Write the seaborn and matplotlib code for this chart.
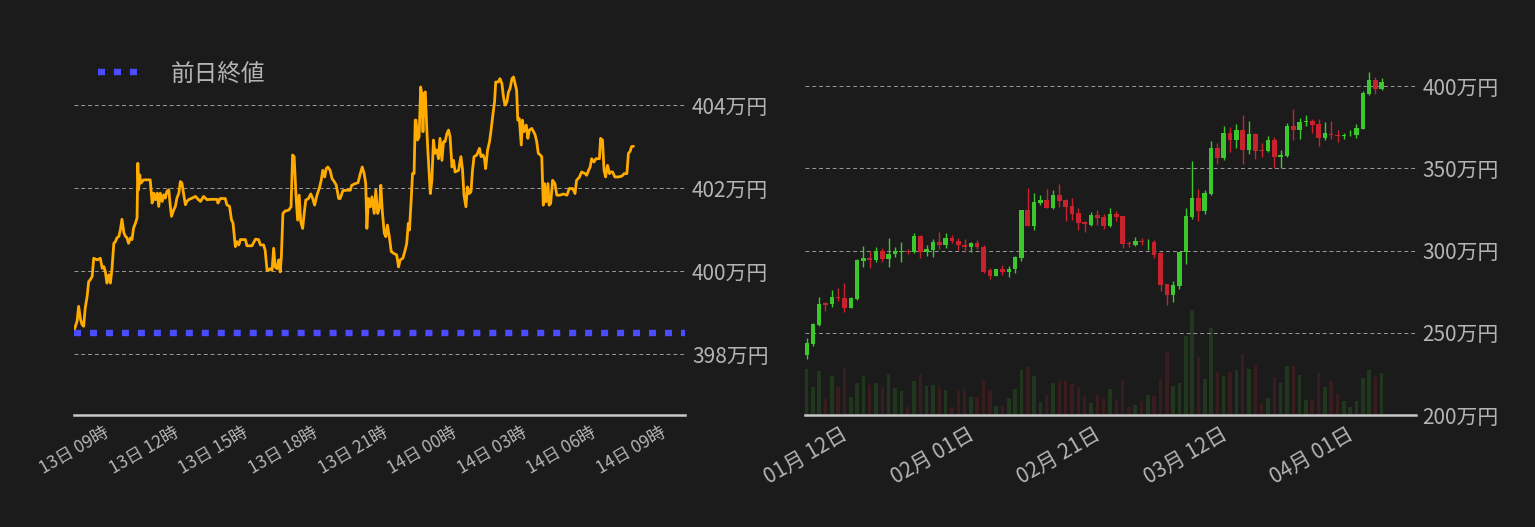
import matplotlib
matplotlib.use('Agg')
import matplotlib.pyplot as plt
import matplotlib.dates as mdates
from matplotlib.ticker import FuncFormatter
import seaborn as sns
import pandas as pd
import numpy as np

BG = '#1b1b1b'
TXT = '#b4b4b4'
ORANGE = '#ffab00'
BLUE = '#4b4bff'
UP = '#3cc72c'
DOWN = '#c8222e'

# --- intraday (minutes after 13日 09:00, price in 万円) ---
minutes = [0, 7, 11, 16, 20, 24, 28, 33, 37, 41, 46, 50, 59, 67, 72, 76, 80, 84, 89, 93,
           97, 102, 106, 110, 115, 119, 123, 128, 132, 136, 140, 145, 149, 153, 158, 162, 164, 166, 169, 172,
           179, 196, 201, 205, 209, 214, 218, 222, 227, 231, 235, 239, 244, 248, 251, 257, 261, 265, 270, 274,
           278, 282, 287, 291, 295, 304, 313, 321, 326, 334, 343, 351, 369, 371, 377, 390, 394, 401, 406, 410,
           416, 420, 425, 429, 433, 442, 446, 459, 468, 476, 481, 489, 493, 498, 502, 506, 511, 515, 519, 524,
           528, 532, 535, 539, 545, 554, 560, 564, 568, 573, 577, 581, 585, 590, 594, 598, 605, 611, 616, 621,
           627, 634, 638, 642, 647, 651, 655, 661, 666, 672, 677, 683, 687, 694, 704, 713, 717, 726, 733, 739,
           744, 749, 753, 756, 760, 765, 769, 775, 779, 784, 789, 792, 796, 801, 805, 809, 814, 819, 825, 833,
           838, 842, 849, 855, 859, 863, 866, 870, 874, 878, 881, 883, 887, 891, 895, 898, 901, 904, 907, 911,
           914, 920, 924, 928, 932, 937, 941, 945, 950, 954, 958, 963, 967, 971, 976, 980, 984, 993, 999, 1003,
           1007, 1012, 1016, 1020, 1025, 1029, 1033, 1040, 1047, 1051, 1056, 1060, 1063, 1068, 1073, 1077, 1081, 1086, 1089, 1096,
           1100, 1105, 1109, 1113, 1118, 1122, 1126, 1131, 1135, 1139, 1143, 1146, 1150, 1155, 1158, 1162, 1168, 1172, 1176, 1182,
           1187, 1191, 1195, 1199, 1204, 1208, 1212, 1215, 1219, 1224, 1227, 1231, 1236, 1242, 1247, 1255, 1264, 1273, 1279, 1288,
           1294, 1298, 1305, 1311, 1320, 1324, 1329, 1333, 1337, 1343, 1348, 1357, 1360, 1365, 1369, 1373, 1378, 1383, 1386, 1391,
           1397, 1406, 1415, 1421, 1428, 1432, 1436, 1440, 1445]
price = [398.59, 398.79, 399.15, 398.83, 398.71, 398.67, 399.11, 399.39, 399.75, 399.79, 399.87, 400.31, 400.27, 400.31, 400.07, 400.11, 399.99, 399.71, 399.91, 399.71,
         400.03, 400.67, 400.71, 400.80, 400.84, 401.00, 401.25, 400.92, 400.84, 400.80, 400.67, 400.80, 400.76, 401.04, 401.16, 401.28, 402.60, 401.96, 402.32, 402.12,
         402.20, 402.20, 401.64, 401.88, 401.72, 401.88, 401.56, 401.88, 401.68, 401.84, 401.76, 401.92, 401.96, 401.56, 401.32, 401.48, 401.56, 401.76, 401.88, 402.16,
         402.12, 401.88, 401.60, 401.68, 401.72, 401.76, 401.80, 401.72, 401.68, 401.80, 401.72, 401.73, 401.73, 401.64, 401.75, 401.75, 401.60, 401.56, 401.24, 401.16,
         400.59, 400.71, 400.63, 400.76, 400.76, 400.76, 400.61, 400.61, 400.77, 400.76, 400.63, 400.63, 400.51, 400.02, 400.02, 400.06, 400.02, 400.55, 400.10, 400.06,
         400.27, 399.98, 400.35, 401.39, 401.45, 401.47, 401.55, 402.80, 402.76, 401.79, 401.23, 401.83, 401.19, 401.03, 401.39, 401.71, 401.75, 401.86, 401.75, 401.59,
         401.83, 402.03, 402.19, 402.43, 402.27, 402.47, 402.51, 402.43, 402.23, 402.15, 402.07, 401.75, 401.75, 401.94, 401.95, 401.95, 402.07, 402.11, 402.13, 402.35,
         402.51, 402.35, 402.11, 401.03, 401.75, 401.55, 401.79, 401.39, 401.95, 401.39, 401.55, 402.07, 401.43, 400.91, 400.83, 401.11, 400.83, 400.47, 400.43, 400.39,
         400.10, 400.27, 400.31, 400.51, 400.67, 401.15, 400.99, 401.63, 402.35, 402.35, 403.64, 403.64, 403.16, 403.24, 404.44, 404.28, 403.36, 404.28, 404.32, 403.40,
         402.84, 401.87, 402.19, 403.16, 402.84, 402.92, 402.71, 403.20, 402.67, 403.12, 403.12, 403.32, 403.40, 403.24, 402.51, 402.67, 402.39, 402.43, 402.76, 402.47,
         401.83, 401.55, 402.03, 401.87, 401.91, 402.43, 402.76, 402.80, 402.96, 402.76, 402.80, 402.71, 402.47, 402.92, 403.12, 403.40, 403.72, 404.08, 404.56, 404.56,
         404.64, 404.52, 404.20, 404.00, 404.08, 404.32, 404.40, 404.64, 404.68, 404.52, 404.36, 403.64, 403.68, 403.04, 403.64, 403.36, 403.52, 403.20, 403.40, 403.44,
         403.36, 403.28, 403.12, 402.84, 402.80, 402.76, 401.59, 402.11, 401.67, 402.11, 401.59, 401.63, 402.19, 402.11, 401.83, 401.83, 401.86, 401.83, 401.99, 401.99,
         401.87, 402.19, 402.26, 402.39, 402.35, 402.31, 402.43, 402.51, 402.71, 402.63, 402.71, 402.71, 403.20, 403.16, 402.43, 402.27, 402.55, 402.35, 402.39, 402.39,
         402.27, 402.27, 402.29, 402.35, 402.35, 402.84, 402.88, 403.00, 403.01]
prev_close = 398.5

# --- daily candles from 01月12日, 万円 ---
day_open = [236.2, 243.3, 254.9, 268.0, 267.6, 272.0, 271.4, 265.2, 270.4, 293.6,
            295.2, 294.2, 299.6, 294.8, 297.8, 299.0, 299.8, 299.0, 309.1, 299.0,
            300.6, 305.2, 303.2, 307.9, 305.8, 303.6, 302.0, 304.8, 302.4, 287.9,
            284.5, 288.5, 286.9, 288.5, 295.2, 324.8, 314.7, 328.8, 330.8, 326.2,
            333.8, 330.8, 327.2, 322.9, 317.1, 315.7, 321.7, 320.5, 315.1, 322.3,
            321.1, 304.8, 303.6, 306.0, 305.0, 305.4, 298.4, 279.5, 273.1, 278.5,
            299.0, 320.7, 332.0, 323.8, 334.4, 362.2, 356.4, 371.8, 367.2, 373.1,
            361.2, 371.2, 361.0, 360.6, 367.0, 357.0, 357.4, 375.5, 373.3, 378.1,
            379.1, 376.7, 368.4, 371.2, 370.6, 369.6, 370.0, 370.2, 373.9, 395.4,
            403.8, 398.0]
day_high = [246.7, 255.7, 272.0, 269.0, 275.9, 277.5, 280.5, 272.0, 294.6, 303.0,
            299.6, 302.2, 301.6, 307.9, 302.2, 305.4, 301.2, 310.9, 309.7, 303.4,
            307.1, 311.5, 310.9, 309.3, 307.7, 307.3, 305.4, 306.5, 303.2, 289.3,
            288.5, 291.0, 290.6, 296.6, 324.8, 338.0, 334.8, 333.8, 337.2, 336.8,
            340.5, 331.4, 332.0, 326.0, 317.9, 323.3, 324.8, 322.3, 326.0, 324.2,
            321.1, 305.6, 308.5, 307.9, 307.3, 306.5, 299.0, 279.5, 281.5, 299.0,
            326.0, 354.3, 337.2, 336.8, 366.4, 365.6, 375.5, 374.9, 376.7, 382.7,
            379.1, 371.8, 365.2, 369.4, 368.8, 361.0, 377.9, 386.3, 380.9, 382.7,
            380.3, 380.3, 378.5, 379.1, 373.1, 371.8, 373.3, 376.7, 397.2, 408.7,
            405.6, 405.0]
day_low = [233.8, 241.9, 254.3, 263.4, 265.8, 269.4, 262.8, 264.8, 270.0, 290.0,
           289.3, 293.0, 292.8, 290.2, 295.8, 293.0, 297.8, 298.6, 295.4, 297.0,
           296.0, 301.2, 301.4, 304.4, 300.2, 299.0, 299.0, 301.0, 286.1, 282.9,
           284.5, 284.9, 283.9, 286.3, 293.6, 314.7, 312.3, 327.8, 325.6, 325.4,
           326.8, 318.1, 318.7, 312.3, 311.1, 314.7, 315.3, 313.3, 314.3, 317.7,
           301.4, 302.0, 302.6, 303.4, 300.6, 295.4, 275.5, 267.0, 268.8, 276.7,
           291.8, 319.3, 317.7, 322.3, 334.0, 352.7, 355.3, 360.0, 362.2, 352.7,
           358.8, 355.7, 357.0, 359.8, 350.1, 350.1, 356.8, 367.4, 367.8, 375.7,
           371.4, 363.6, 367.0, 367.6, 366.0, 367.8, 369.6, 368.4, 373.7, 394.4,
           395.0, 397.8]
day_close = [243.9, 255.1, 267.8, 267.2, 272.0, 271.0, 265.2, 271.0, 294.0, 295.2,
             294.2, 300.0, 294.6, 298.0, 299.6, 299.8, 299.0, 309.1, 299.0, 301.0,
             305.2, 303.2, 307.7, 305.6, 303.2, 302.0, 304.8, 302.0, 286.7, 284.5,
             288.5, 286.9, 289.1, 295.8, 324.8, 314.7, 329.6, 330.8, 326.2, 333.8,
             330.4, 326.8, 322.3, 316.5, 315.9, 321.7, 320.1, 315.1, 322.3, 320.7,
             304.0, 303.8, 306.0, 305.0, 305.4, 297.2, 279.1, 273.1, 278.9, 299.0,
             321.1, 332.0, 323.8, 335.0, 362.2, 356.4, 371.8, 367.2, 373.1, 361.2,
             371.2, 360.6, 360.6, 367.0, 357.0, 358.0, 375.5, 373.3, 378.5, 379.1,
             376.3, 368.4, 371.8, 370.2, 369.6, 370.6, 370.6, 374.3, 396.0, 403.8,
             398.0, 402.6]
day_volume = [138, 84, 132, 48, 117, 84, 141, 54, 96, 117,
              90, 96, 84, 123, 81, 72, 24, 102, 123, 87,
              90, 84, 75, 24, 72, 78, 54, 54, 105, 75,
              27, 27, 51, 78, 135, 144, 117, 39, 60, 96,
              102, 102, 93, 84, 57, 36, 60, 51, 78, 45,
              105, 24, 30, 42, 60, 57, 108, 189, 87, 96,
              237, 315, 174, 108, 261, 129, 117, 129, 135, 183,
              138, 150, 33, 51, 114, 96, 147, 147, 120, 45,
              45, 126, 84, 102, 63, 42, 24, 42, 111, 135,
              114, 126]

sns.set_theme(style='dark', rc={
    'figure.facecolor': BG, 'axes.facecolor': BG, 'savefig.facecolor': BG,
    'text.color': TXT, 'xtick.color': TXT, 'ytick.color': TXT,
    'axes.edgecolor': '#c8c8c8',
})
plt.rcParams['font.family'] = ['Noto Sans CJK JP', 'DejaVu Sans']


def style_axis(ax):
    for side in ['left', 'top', 'right']:
        ax.spines[side].set_visible(False)
    ax.spines['bottom'].set_color('#c8c8c8')
    ax.spines['bottom'].set_linewidth(1.8)
    ax.grid(axis='y', color='#9a9a9a', linestyle=(0, (4, 3)), linewidth=0.7)
    ax.grid(axis='x', visible=False)
    ax.yaxis.tick_right()
    ax.tick_params(axis='y', length=0, pad=5, labelsize=15, colors=TXT)
    ax.yaxis.set_major_formatter(FuncFormatter(lambda v, p: f'{v:.0f}万円'))
    ax.set_xlabel('')
    ax.set_ylabel('')


fig = plt.figure(figsize=(15.35, 5.27), dpi=100)
ax1 = fig.add_axes([0.0482, 0.2125, 0.398, 0.702])
ax2 = fig.add_axes([0.5244, 0.2125, 0.3978, 0.702])

# left: intraday price vs previous close
t0 = pd.Timestamp('2024-04-13 09:00')
intraday = pd.DataFrame({'time': t0 + pd.to_timedelta(minutes, unit='min'), 'price': price})
sns.lineplot(data=intraday, x='time', y='price', ax=ax1, color=ORANGE, linewidth=2.0, zorder=3)
ax1.axhline(prev_close, color=BLUE, linewidth=4.6, dashes=(1.1, 1.4), label='前日終値', zorder=4)
ax1.set_xlim(t0 - pd.Timedelta(minutes=1), t0 + pd.Timedelta(hours=26.3))
ax1.set_ylim(396.53, 405.45)
ax1.set_yticks([398, 400, 402, 404])
style_axis(ax1)
ax1.xaxis.set_major_locator(mdates.HourLocator(byhour=range(0, 24, 3)))
ax1.xaxis.set_major_formatter(mdates.DateFormatter('%d日 %H時'))
ax1.tick_params(axis='x', length=0, pad=6, labelsize=12.5, colors=TXT, labelrotation=30)
leg = ax1.legend(loc='upper left', frameon=False, fontsize=17, labelcolor=TXT,
                 handlelength=1.85, handletextpad=1.2, bbox_to_anchor=(0.005, 1.01))

# right: daily candles with volume
x = mdates.date2num(pd.date_range('2024-01-12', periods=len(day_open), freq='D'))
o = np.array(day_open)
c = np.array(day_close)
colors = [UP if cc >= oo else DOWN for oo, cc in zip(o, c)]

axv = ax2.twinx()
axv.bar(x, day_volume, width=0.55, color=colors, alpha=0.17, linewidth=0)
axv.set_ylim(0, max(day_volume) * 3.52)
axv.set_yticks([])
axv.grid(False)
for s in axv.spines.values():
    s.set_visible(False)
ax2.set_zorder(axv.get_zorder() + 1)
ax2.patch.set_visible(False)

ax2.vlines(x, day_low, day_high, colors=colors, linewidth=1.0, zorder=3)
body_low = np.minimum(o, c)
body_h = np.maximum(np.abs(c - o), 0.4)
ax2.bar(x, body_h, bottom=body_low, width=0.72, color=colors, linewidth=0, zorder=4)
ax2.set_xlim(x[0] - 0.25, x[0] - 0.25 + 96.6)
axv.set_xlim(ax2.get_xlim())
ax2.set_ylim(200, 425)
ax2.set_yticks([200, 250, 300, 350, 400])
style_axis(ax2)
ax2.set_xticks(mdates.date2num(pd.date_range('2024-01-12', periods=5, freq='20D')))
ax2.xaxis.set_major_formatter(mdates.DateFormatter('%m月 %d日'))
ax2.tick_params(axis='x', length=0, pad=6, labelsize=15, colors=TXT, labelrotation=30)

fig.savefig('out.png', dpi=100, facecolor=BG)
